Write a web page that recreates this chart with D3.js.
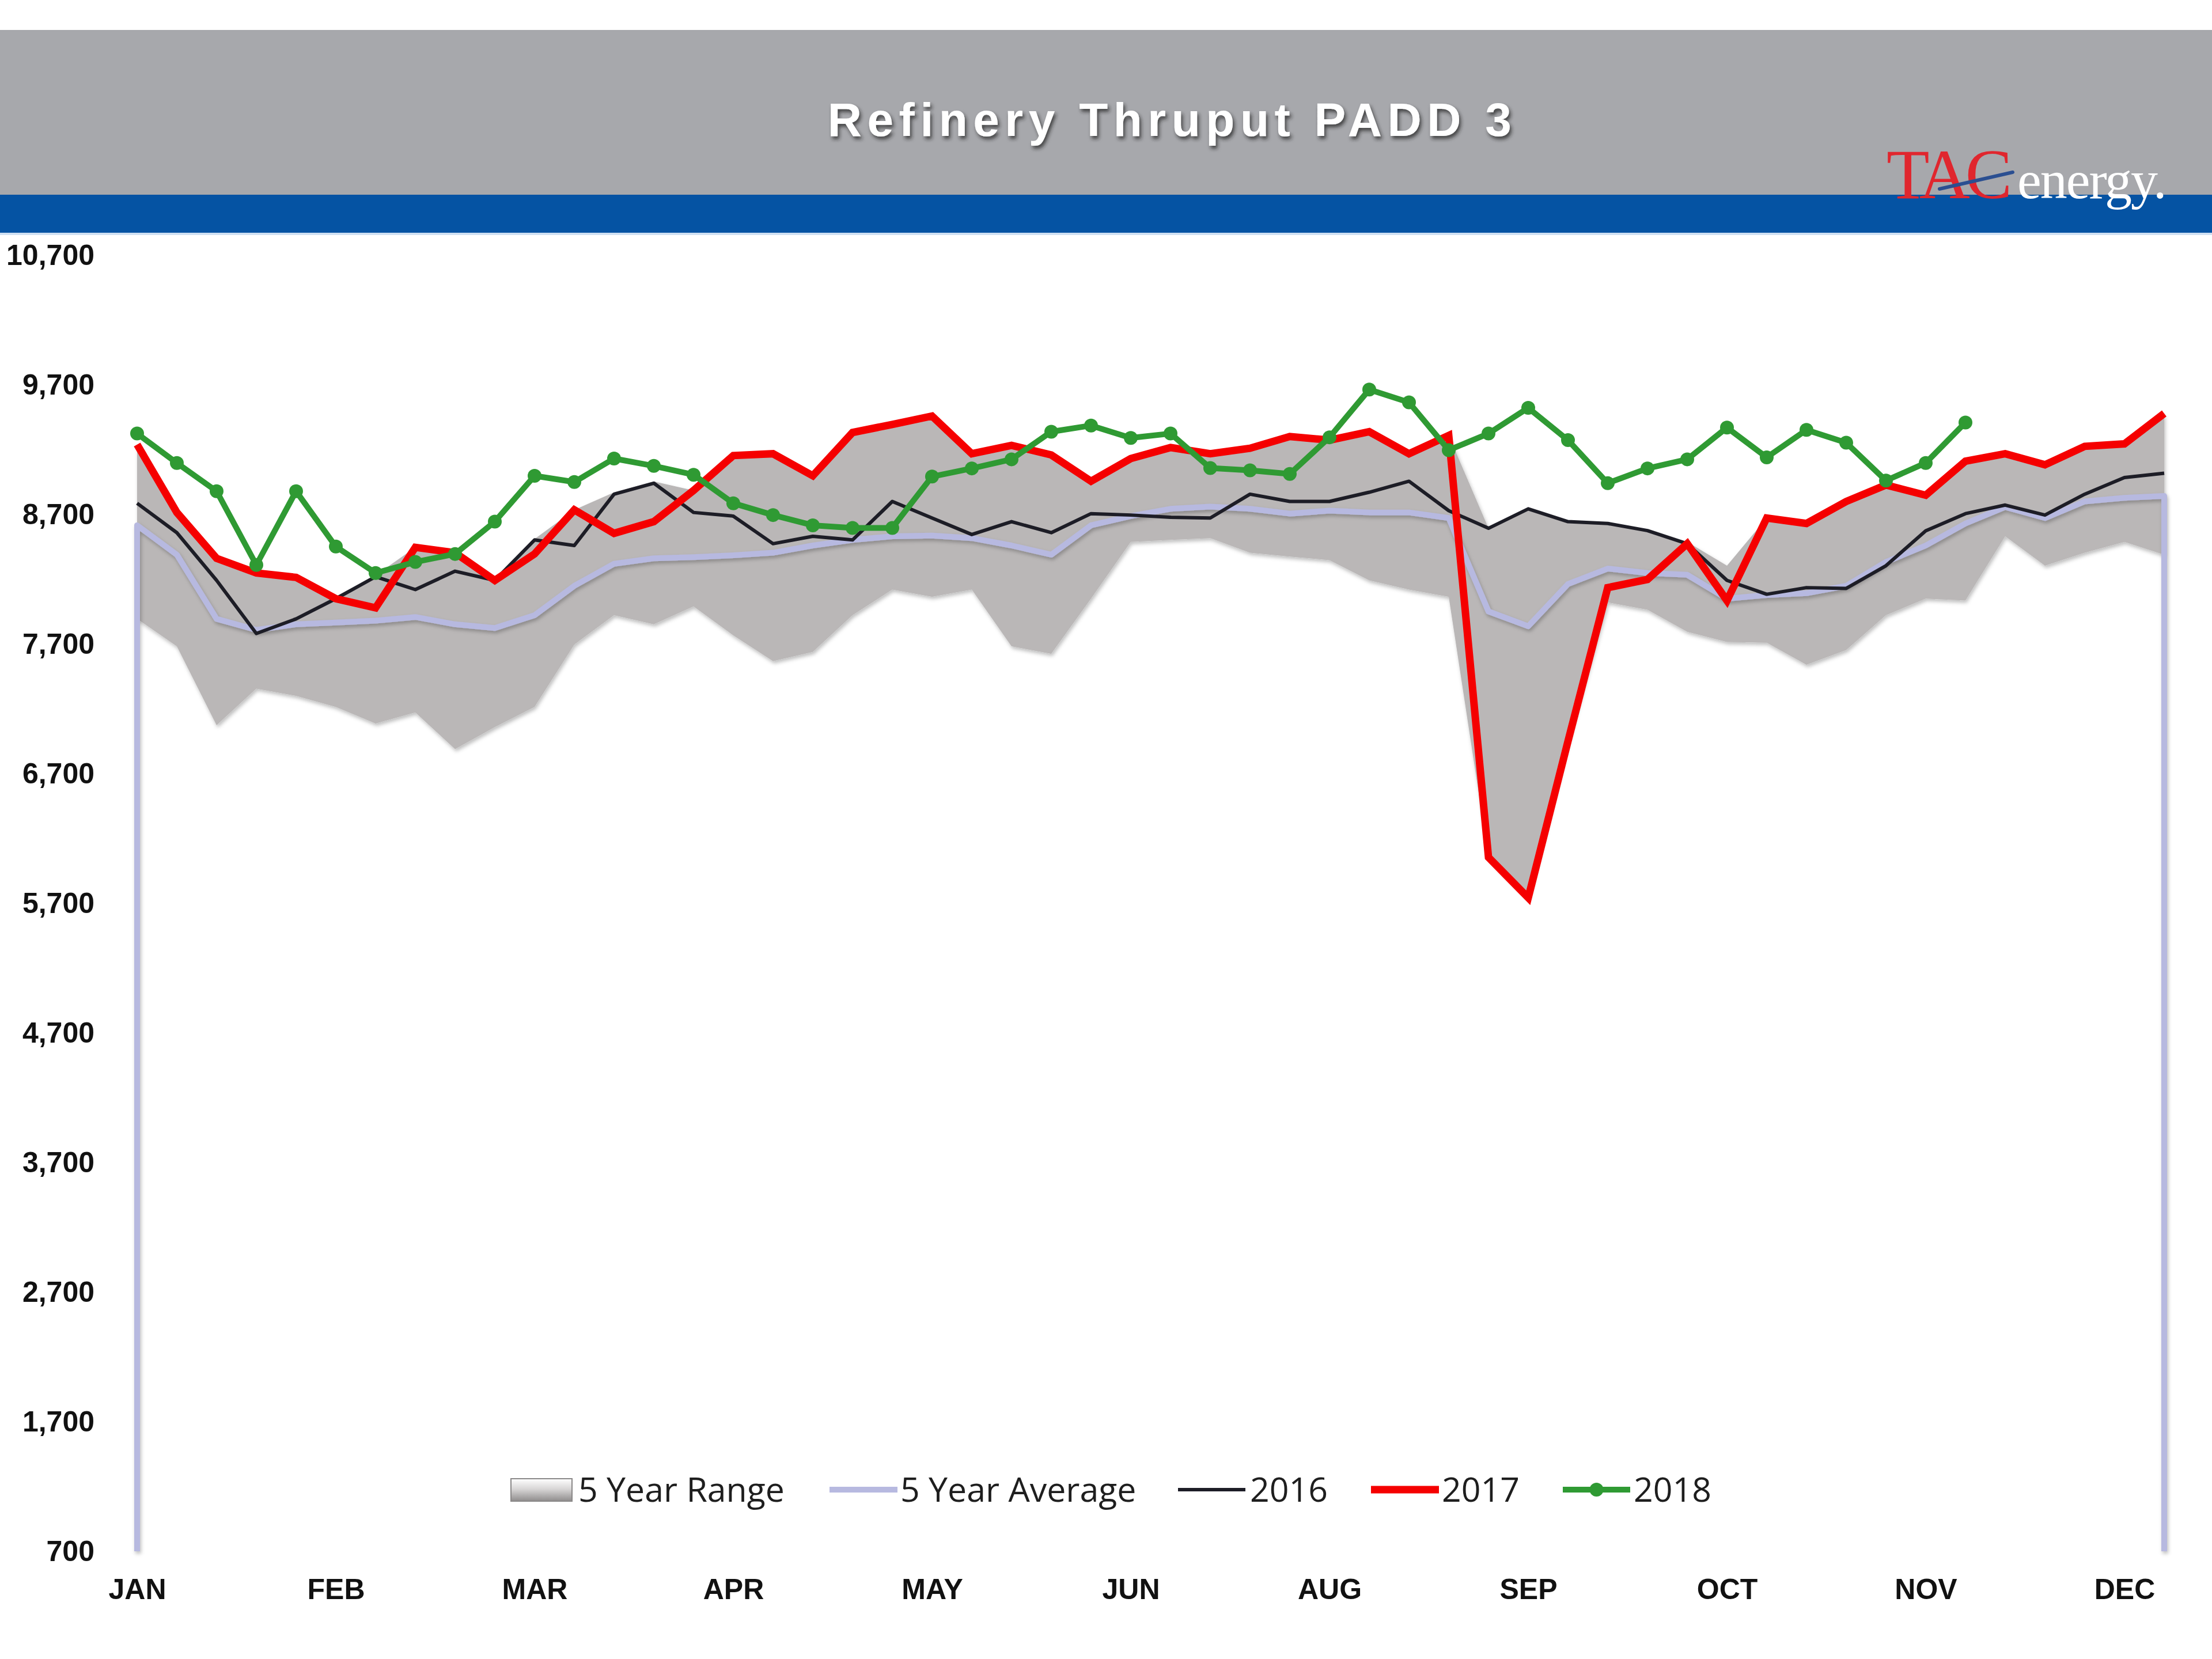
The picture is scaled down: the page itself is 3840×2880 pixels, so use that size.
<!DOCTYPE html>
<html><head><meta charset="utf-8">
<script src="https://cdn.jsdelivr.net/npm/d3@7"></script>
<style>html,body{margin:0;padding:0;background:#fff}</style>
</head><body>
<svg id="chart" width="3840" height="2880" xmlns="http://www.w3.org/2000/svg"></svg>
<script>
// ---------- DATA ----------
const title = "Refinery Thruput PADD 3";
const monthLabels = ["JAN","FEB","MAR","APR","MAY","JUN","AUG","SEP","OCT","NOV","DEC"];
const monthTickWeeks = [0,5,10,15,20,25,30,35,40,45,50];
const yTicks = [700,1700,2700,3700,4700,5700,6700,7700,8700,9700,10700];
const legendLabels = ["5 Year Range","5 Year Average","2016","2017","2018"];

const rangeMin = [7894,7682,7073,7356,7300,7215,7087,7172,6889,7059,7215,7696,7922,7852,7990,7767,7568,7639,7922,8120,8064,8120,7682,7625,8050,8488,8503,8517,8404,8375,8347,8191,8120,8064,6054,5742,6950,8021,7965,7795,7716,7710,7540,7653,7922,8050,8036,8531,8304,8404,8488,8389];
const rangeMax = [9239,8715,8361,8248,8214,8060,8230,8446,8404,8200,8510,8735,8870,8955,8885,9154,9168,8998,9332,9394,9459,9168,9233,9159,8956,9131,9216,9168,9210,9301,9273,9338,9168,9309,8593,8743,8644,8630,8575,8488,8305,8672,8630,8800,8927,8848,9111,9168,9083,9225,9244,9479];
const avg5 = [8616,8389,7894,7809,7852,7866,7880,7908,7852,7823,7922,8149,8319,8361,8370,8384,8404,8460,8503,8531,8537,8517,8460,8389,8616,8687,8743,8760,8743,8706,8729,8715,8715,8672,7951,7837,8163,8282,8248,8234,8050,8078,8092,8149,8333,8460,8630,8757,8672,8800,8828,8842];
const y2016 = [8786,8559,8191,7781,7894,8050,8219,8120,8262,8191,8503,8460,8856,8941,8715,8687,8474,8531,8503,8800,8672,8545,8644,8559,8706,8695,8678,8672,8856,8800,8800,8871,8956,8729,8593,8743,8644,8630,8575,8474,8191,8084,8135,8129,8304,8573,8706,8772,8695,8856,8984,9018];
const y2017 = [9239,8715,8361,8248,8214,8050,7979,8446,8404,8191,8395,8735,8554,8644,8885,9154,9168,8998,9332,9394,9459,9168,9233,9159,8956,9131,9216,9168,9210,9301,9273,9338,9168,9309,6054,5742,6950,8135,8198,8474,8035,8672,8630,8800,8927,8848,9111,9168,9083,9225,9244,9479];
const y2018 = [9324,9097,8879,8310,8879,8452,8248,8333,8395,8644,8998,8950,9131,9074,9006,8786,8695,8616,8596,8596,8992,9055,9125,9338,9386,9290,9324,9058,9040,9012,9295,9663,9564,9196,9324,9522,9273,8941,9055,9125,9370,9140,9352,9253,8961,9097,9409];

// ---------- SETUP ----------
const svg = d3.select("#chart");
const W = 3840, H = 2880;
const x = d3.scaleLinear().domain([0, rangeMin.length - 1]).range([238, 3757]);
const y = d3.scaleLinear().domain([700, 10700]).range([2693, 443]);

const defs = svg.append("defs");
const ts = defs.append("filter").attr("id","titleShadow").attr("x","-10%").attr("y","-30%").attr("width","120%").attr("height","160%");
ts.append("feDropShadow").attr("dx",3).attr("dy",5).attr("stdDeviation",3).attr("flood-color","#222").attr("flood-opacity",0.75);
const ls = defs.append("filter").attr("id","lineShadow").attr("x","-5%").attr("y","-20%").attr("width","110%").attr("height","140%");
ls.append("feDropShadow").attr("dx",2).attr("dy",4).attr("stdDeviation",3).attr("flood-color","#000").attr("flood-opacity",0.25);
const sw = defs.append("linearGradient").attr("id","swatchGrad").attr("x1",0).attr("y1",0).attr("x2",0).attr("y2",1);
sw.append("stop").attr("offset","0%").attr("stop-color","#ffffff");
sw.append("stop").attr("offset","45%").attr("stop-color","#d9d7d7");
sw.append("stop").attr("offset","100%").attr("stop-color","#8f8c8c");

svg.append("rect").attr("width",W).attr("height",H).attr("fill","#fff");

// ---------- HEADER ----------
svg.append("rect").attr("x",0).attr("y",52).attr("width",W).attr("height",286).attr("fill","#a7a8ac");
svg.append("rect").attr("x",0).attr("y",338).attr("width",W).attr("height",66).attr("fill","#0553a3");
svg.append("rect").attr("x",0).attr("y",404).attr("width",W).attr("height",4).attr("fill","#cfe0f2");

svg.append("text").attr("x",2035).attr("y",236).attr("text-anchor","middle")
  .attr("font-family","Liberation Sans, Arial, sans-serif").attr("font-weight","bold")
  .attr("font-size",82).attr("letter-spacing","9.5px").attr("fill","#fff")
  .attr("filter","url(#titleShadow)").text(title);

// logo
svg.append("text").attr("x",3275).attr("y",344)
  .attr("font-family","Liberation Serif, Times New Roman, serif").attr("font-size",122)
  .attr("letter-spacing","-8px").attr("fill","#e0262e").text("TAC");
svg.append("text").attr("x",3502).attr("y",344)
  .attr("font-family","Liberation Serif, Times New Roman, serif").attr("font-size",94)
  .attr("letter-spacing","-2px").attr("fill","#fff").text("energy.");
svg.append("line").attr("x1",3367).attr("y1",328).attr("x2",3494).attr("y2",299)
  .attr("stroke","#2b4f91").attr("stroke-width",6).attr("stroke-linecap","round");

// ---------- PLOT ----------
const idx = d3.range(rangeMin.length);
const area = d3.area().x(i => x(i)).y0(i => y(rangeMin[i])).y1(i => y(rangeMax[i]));
svg.append("path").datum(idx).attr("d", area).attr("fill","#bab7b7").attr("filter","url(#lineShadow)");

// 5 year average (drops to axis minimum at both ends, as in the source)
const base = y.domain()[0];
const avgPts = [[0, base]].concat(avg5.map((v,i)=>[i,v])).concat([[avg5.length-1, base]]);
const line = d3.line().x(d => x(d[0])).y(d => y(d[1]));
svg.append("path").datum(avgPts).attr("d", line).attr("fill","none")
  .attr("stroke","#b7b9e0").attr("stroke-width",10).attr("stroke-linejoin","round")
  .attr("filter","url(#lineShadow)");

const line1 = d3.line().x((d,i) => x(i)).y(d => y(d));
svg.append("path").datum(y2016).attr("d", line1).attr("fill","none")
  .attr("stroke","#1d1d26").attr("stroke-width",6).attr("stroke-linejoin","round");
svg.append("path").datum(y2017).attr("d", line1).attr("fill","none")
  .attr("stroke","#f50000").attr("stroke-width",13).attr("stroke-linejoin","miter");
svg.append("path").datum(y2018).attr("d", line1).attr("fill","none")
  .attr("stroke","#2f9a33").attr("stroke-width",10).attr("stroke-linejoin","round");
svg.append("g").selectAll("circle").data(y2018).join("circle")
  .attr("cx",(d,i)=>x(i)).attr("cy",d=>y(d)).attr("r",12).attr("fill","#2f9a33");

// bottom axis line
svg.append("line").attr("x1",x(0)).attr("x2",x(rangeMin.length-1)).attr("y1",y(700)).attr("y2",y(700))
  .attr("stroke","#a3a3a6").attr("stroke-width",5).attr("filter","url(#lineShadow)");

// ---------- AXES ----------
const yAxis = d3.axisLeft(y).tickValues(yTicks).tickFormat(d3.format(",")).tickSize(0).tickPadding(73);
const gy = svg.append("g").attr("transform",`translate(${x(0)-1},0)`).call(yAxis);
gy.select(".domain").remove();
gy.selectAll("text").attr("font-family","Liberation Sans, Arial, sans-serif").attr("font-weight","bold")
  .attr("font-size",50).attr("fill","#111");

const xAxis = d3.axisBottom(x).tickValues(monthTickWeeks).tickFormat((d,i)=>monthLabels[i]).tickSize(0).tickPadding(47);
const gx = svg.append("g").attr("transform",`translate(0,${y(700)})`).call(xAxis);
gx.select(".domain").remove();
gx.selectAll("text").attr("font-family","Liberation Sans, Arial, sans-serif").attr("font-weight","bold")
  .attr("font-size",50).attr("fill","#111");

// ---------- LEGEND ----------
const lg = svg.append("g");
const ly = 2586;
const legFont = {family:"Open Sans, Liberation Sans, sans-serif", size:59};
// range swatch
lg.append("rect").attr("x",887).attr("y",2567).attr("width",106).attr("height",39)
  .attr("fill","url(#swatchGrad)").attr("stroke","#8a8888").attr("stroke-width",2);
const items = [
  {tx:1004, sx:null, color:null},
  {tx:1563, sx:[1440,1558], color:"#b7b9e0", w:10, marker:false},
  {tx:2170, sx:[2045,2162], color:"#1d1d26", w:6, marker:false},
  {tx:2503, sx:[2380,2498], color:"#f50000", w:13, marker:false},
  {tx:2836, sx:[2713,2830], color:"#2f9a33", w:10, marker:true}
];
items.forEach((it,k)=>{
  if (it.sx) {
    lg.append("line").attr("x1",it.sx[0]).attr("x2",it.sx[1]).attr("y1",ly).attr("y2",ly)
      .attr("stroke",it.color).attr("stroke-width",it.w);
    if (it.marker) lg.append("circle").attr("cx",(it.sx[0]+it.sx[1])/2).attr("cy",ly).attr("r",12).attr("fill",it.color);
  }
  lg.append("text").attr("x",it.tx).attr("y",ly+21)
    .attr("font-family",legFont.family).attr("font-size",legFont.size).attr("fill","#1e1e1e")
    .text(legendLabels[k]);
});
</script>
</body></html>
